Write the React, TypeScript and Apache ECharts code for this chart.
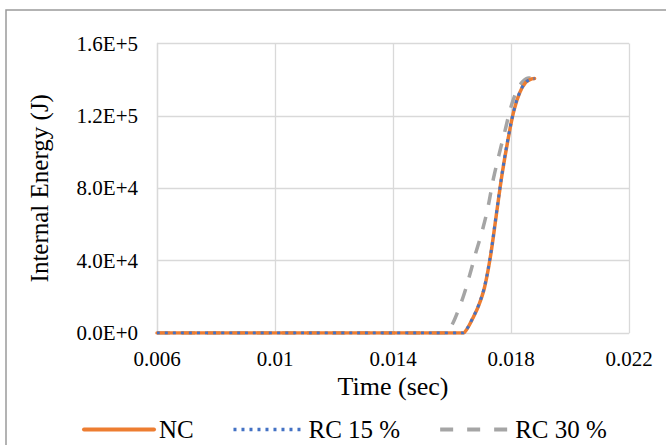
import React, { useEffect, useRef } from "react";
import * as echarts from "echarts";

const ncTime = [0.006, 0.008, 0.01, 0.012, 0.014, 0.016, 0.01638, 0.0165, 0.0167, 0.0169, 0.0171, 0.0173, 0.0175, 0.0177, 0.0179, 0.0181, 0.0183, 0.0185, 0.0187, 0.0188];
const ncEnergy = [0, 0, 0, 0, 0, 0, 0, 2000, 8000, 15000, 25000, 42000, 65000, 88000, 107000, 123000, 133000, 138500, 140500, 140700];

const rc15Time = [0.006, 0.008, 0.01, 0.012, 0.014, 0.016, 0.01638, 0.0165, 0.0167, 0.0169, 0.0171, 0.0173, 0.0175, 0.0177, 0.0179, 0.0181, 0.0183, 0.0185, 0.0187, 0.0188];
const rc15Energy = [0, 0, 0, 0, 0, 0, 0, 2100, 8200, 15300, 25500, 42500, 65500, 88500, 107500, 123200, 133200, 138600, 140400, 140600];

const rc30Time = [0.006, 0.008, 0.01, 0.012, 0.014, 0.0158, 0.016, 0.0162, 0.0164, 0.0166, 0.0168, 0.017, 0.0172, 0.0174, 0.0176, 0.0178, 0.018, 0.0182, 0.0184, 0.0186, 0.01876];
const rc30Energy = [0, 0, 0, 0, 0, 0, 4500, 12000, 21000, 32000, 44000, 55000, 68000, 85000, 99000, 112000, 125000, 134000, 139000, 141000, 141000];

const xTicks = { min: 0.006, max: 0.022, step: 0.004 };
const yTicks = { min: 0, max: 160000, step: 40000 };

const zip = (t: number[], e: number[]) => t.map((v, i) => [v, e[i]]);

const FONT = "Times New Roman, Liberation Serif, serif";

export default function App() {
  const ref = useRef<HTMLDivElement>(null);
  useEffect(() => {
    document.body.style.margin = "0";
    const chart = echarts.init(ref.current!, null, { renderer: "svg" });
    chart.setOption({
      animation: false,
      backgroundColor: "#ffffff",
      textStyle: { fontFamily: FONT, color: "#000" },
      graphic: [
        {
          type: "rect",
          shape: { x: 6, y: 10, width: 720, height: 500 },
          style: { fill: "none", stroke: "#9a9a9a", lineWidth: 1.5 },
          silent: true,
          z: -1,
        },
      ],
      grid: { left: 157, right: 37, top: 43.5, bottom: 112, containLabel: false },
      xAxis: {
        type: "value",
        min: xTicks.min,
        max: xTicks.max,
        interval: xTicks.step,
        name: "Time (sec)",
        nameLocation: "middle",
        nameGap: 40,
        nameTextStyle: { fontFamily: FONT, fontSize: 26, color: "#000" },
        axisLine: { show: true, lineStyle: { color: "#d9d9d9", width: 1 } },
        axisTick: { show: false },
        axisLabel: {
          fontFamily: FONT,
          fontSize: 21,
          color: "#000",
          margin: 15,
          formatter: (v: number) => String(+v.toFixed(4)),
        },
        splitLine: { show: true, lineStyle: { color: "#d9d9d9", width: 1.3 } },
      },
      yAxis: {
        type: "value",
        min: yTicks.min,
        max: yTicks.max,
        interval: yTicks.step,
        name: "Internal Energy (J)",
        nameLocation: "middle",
        nameGap: 105,
        nameTextStyle: { fontFamily: FONT, fontSize: 25, color: "#000" },
        axisLine: { show: true, lineStyle: { color: "#d9d9d9", width: 1.3 } },
        axisTick: { show: false },
        axisLabel: {
          fontFamily: FONT,
          fontSize: 21,
          color: "#000",
          margin: 19,
          formatter: (v: number) => v.toExponential(1).replace("e", "E"),
        },
        splitLine: { show: true, lineStyle: { color: "#d9d9d9", width: 1.3 } },
      },
      legend: {
        left: 77,
        top: 412,
        itemWidth: 70,
        itemHeight: 14,
        itemGap: 38,
        itemStyle: { opacity: 0 },
        textStyle: { fontFamily: FONT, fontSize: 25, color: "#000" },
        data: [
          { name: "NC", lineStyle: { width: 4 } },
          { name: "RC 15 %", lineStyle: { width: 3.5, type: [3, 5] } },
          { name: "RC 30 %", lineStyle: { width: 4, type: [13, 14] } },
        ],
      },
      series: [
        {
          name: "NC",
          type: "line",
          data: zip(ncTime, ncEnergy),
          showSymbol: false,
          symbol: "none",
          smooth: 0.35,
          lineStyle: { color: "#ED7D31", width: 3.5, cap: "round" },
          itemStyle: { color: "#ED7D31" },
          z: 2,
        },
        {
          name: "RC 15 %",
          type: "line",
          data: zip(rc15Time, rc15Energy),
          showSymbol: false,
          symbol: "none",
          smooth: 0.35,
          lineStyle: { color: "#4472C4", width: 3, type: [3, 5] },
          itemStyle: { color: "#4472C4" },
          z: 3,
        },
        {
          name: "RC 30 %",
          type: "line",
          data: zip(rc30Time, rc30Energy),
          showSymbol: false,
          symbol: "none",
          smooth: 0.35,
          lineStyle: { color: "#A5A5A5", width: 3.5, type: [13, 12] },
          itemStyle: { color: "#A5A5A5" },
          z: 1,
        },
      ],
    });
    return () => chart.dispose();
  }, []);
  return <div ref={ref} style={{ width: 666, height: 445 }} />;
}
